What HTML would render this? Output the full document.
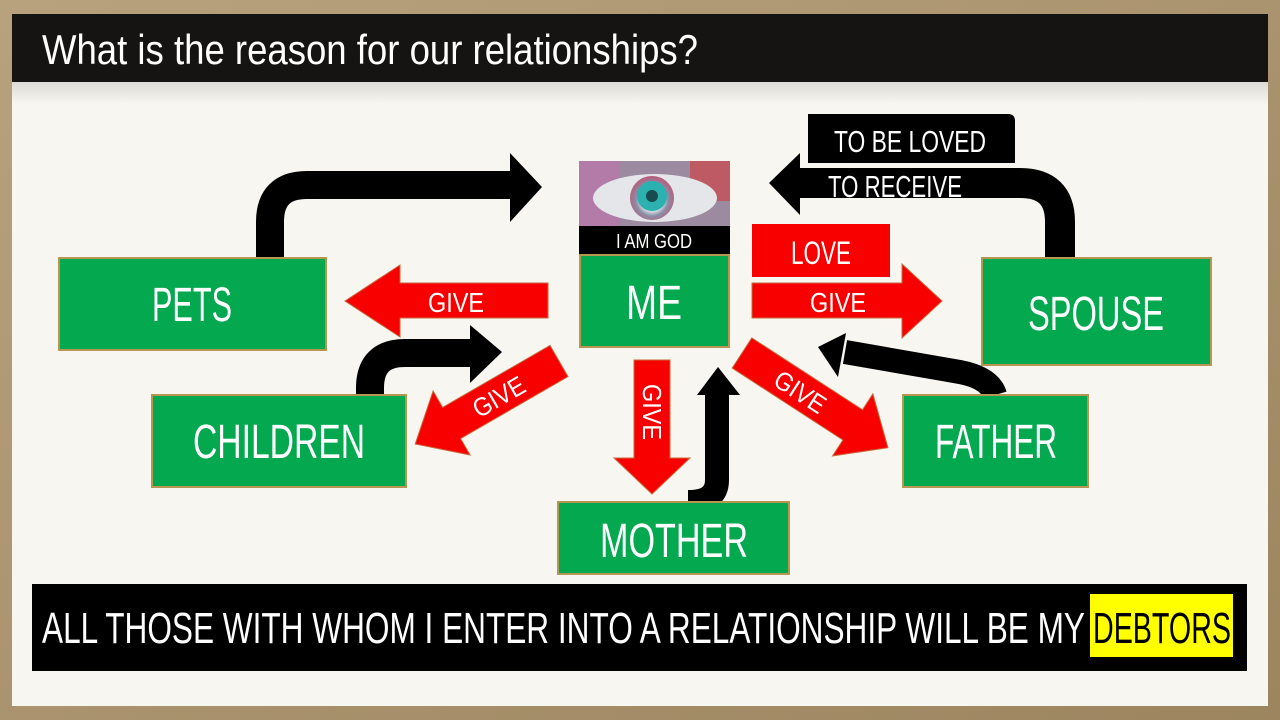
<!DOCTYPE html>
<html><head><meta charset="utf-8"><style>
html,body{margin:0;padding:0;width:1280px;height:720px;overflow:hidden;background:#a8916d}
svg{display:block}
text{font-family:"Liberation Sans",sans-serif}
</style></head><body>
<svg width="1280" height="720" viewBox="0 0 1280 720" xmlns="http://www.w3.org/2000/svg">
<defs>
<linearGradient id="fr" x1="0" y1="0" x2="1" y2="1"><stop offset="0" stop-color="#b8a27e"/><stop offset="1" stop-color="#9c855f"/></linearGradient>
<linearGradient id="sh" x1="0" y1="0" x2="0" y2="1"><stop offset="0" stop-color="#dcdad4"/><stop offset="1" stop-color="#f8f6f1"/></linearGradient>
<radialGradient id="eye" cx="0.5" cy="0.55" r="0.6"><stop offset="0" stop-color="#2aa6a8"/><stop offset="0.25" stop-color="#1a7f86"/><stop offset="0.4" stop-color="#dfe4ea"/><stop offset="0.6" stop-color="#8a8fa8"/><stop offset="1" stop-color="#c84a6a"/></radialGradient>
</defs>
<rect width="1280" height="720" fill="url(#fr)"/>
<rect x="12" y="14" width="1256" height="692" fill="#f8f6f1"/>
<rect x="12" y="82" width="1256" height="22" fill="url(#sh)"/>
<rect x="12" y="14" width="1256" height="68" fill="#151412"/>
<text x="42" y="64" font-size="42" fill="#fff" textLength="656" lengthAdjust="spacingAndGlyphs">What is the reason for our relationships?</text>

<!-- black arrows -->
<path d="M270,258 V222 Q270,185 307,185 H515" fill="none" stroke="#000" stroke-width="28"/>
<polygon points="510,153 542,187 510,222" fill="#000"/>
<path d="M1060,258 V222 Q1060,183 1020,183 H795" fill="none" stroke="#000" stroke-width="30"/>
<polygon points="800,153 769,183 800,215" fill="#000"/>
<path d="M808,114 H1008 Q1015,114 1015,121 V163 H808 Z" fill="#000"/>
<text x="834" y="152" font-size="31" fill="#fff" textLength="152" lengthAdjust="spacingAndGlyphs">TO BE LOVED</text>
<text x="828" y="197" font-size="31" fill="#fff" textLength="134" lengthAdjust="spacingAndGlyphs">TO RECEIVE</text>

<path d="M370,395 V388 Q370,353 405,353 H480" fill="none" stroke="#000" stroke-width="28"/>
<polygon points="470,325 502,352 470,383" fill="#000"/>
<path d="M688,502 Q717,502 717,480 V390" fill="none" stroke="#000" stroke-width="24"/>
<polygon points="697,395 718,367 740,395" fill="#000"/>
<path d="M995,395 Q990,378 960,372 L845,352" fill="none" stroke="#000" stroke-width="24"/>
<polygon points="818,347 846,333 838,377" fill="#000"/>

<!-- red arrows -->
<rect x="752" y="224" width="138" height="53" fill="#f80000"/>
<text x="821" y="264" font-size="32" fill="#fff" text-anchor="middle" textLength="60" lengthAdjust="spacingAndGlyphs">LOVE</text>
<polygon points="548,283 400,283 400,265 345,301 400,337 400,318 548,318" fill="#f80000" stroke="#c86a3a" stroke-width="1"/>
<text x="456" y="312" font-size="28" fill="#fff" text-anchor="middle" textLength="56" lengthAdjust="spacingAndGlyphs">GIVE</text>
<polygon points="752,283 902,283 902,264 942,301 902,338 902,318 752,318" fill="#f80000" stroke="#c86a3a" stroke-width="1"/>
<text x="838" y="312" font-size="28" fill="#fff" text-anchor="middle" textLength="56" lengthAdjust="spacingAndGlyphs">GIVE</text>
<polygon points="634,360 670,360 670,458 690,458 652,494 614,458 634,458" fill="#f80000" stroke="#c86a3a" stroke-width="1"/>
<text transform="translate(643,412) rotate(90)" font-size="26" fill="#fff" text-anchor="middle" textLength="56" lengthAdjust="spacingAndGlyphs">GIVE</text>
<g transform="translate(559,361) rotate(150)">
<polygon points="0,-18 124,-18 124,-37 166,0 124,37 124,18 0,18" fill="#f80000" stroke="#c86a3a" stroke-width="1"/>
<text transform="translate(70,-10) rotate(180)" font-size="26" fill="#fff" text-anchor="middle" textLength="56" lengthAdjust="spacingAndGlyphs">GIVE</text>
</g>
<g transform="translate(742,353) rotate(33)">
<polygon points="0,-18 132,-18 132,-37 174,0 132,37 132,18 0,18" fill="#f80000" stroke="#c86a3a" stroke-width="1"/>
<text x="70" y="10" font-size="26" fill="#fff" text-anchor="middle" textLength="56" lengthAdjust="spacingAndGlyphs">GIVE</text>
</g>

<!-- eye -->
<rect x="579" y="161" width="151" height="65" fill="#9c8aa0"/>
<rect x="579" y="161" width="40" height="65" fill="#c86bb0" opacity="0.5"/>
<rect x="690" y="161" width="40" height="40" fill="#d43a3a" opacity="0.6"/>
<ellipse cx="655" cy="198" rx="62" ry="24" fill="#e4e6ea"/>
<circle cx="652" cy="198" r="22" fill="url(#eye)"/>
<circle cx="652" cy="196" r="15" fill="#2bb2b0"/>
<circle cx="652" cy="196" r="6" fill="#184a50"/>
<rect x="579" y="226" width="151" height="28" fill="#000"/>
<text x="654" y="248" font-size="20" fill="#fff" text-anchor="middle" textLength="76" lengthAdjust="spacingAndGlyphs">I AM GOD</text>

<!-- boxes -->
<g fill="#03a84f" stroke="#b69650" stroke-width="2">
<rect x="59" y="258" width="267" height="92"/>
<rect x="580" y="255" width="149" height="92"/>
<rect x="982" y="258" width="229" height="107"/>
<rect x="152" y="395" width="254" height="92"/>
<rect x="903" y="395" width="185" height="92"/>
<rect x="558" y="502" width="231" height="72"/>
</g>
<g fill="#fff" font-size="48" text-anchor="middle">
<text x="192" y="321" textLength="80" lengthAdjust="spacingAndGlyphs">PETS</text>
<text x="654" y="319" textLength="56" lengthAdjust="spacingAndGlyphs">ME</text>
<text x="1096" y="330" textLength="136" lengthAdjust="spacingAndGlyphs">SPOUSE</text>
<text x="279" y="458" textLength="172" lengthAdjust="spacingAndGlyphs">CHILDREN</text>
<text x="996" y="458" textLength="122" lengthAdjust="spacingAndGlyphs">FATHER</text>
<text x="674" y="557" textLength="148" lengthAdjust="spacingAndGlyphs">MOTHER</text>
</g>

<!-- bottom bar -->
<rect x="32" y="584" width="1215" height="87" fill="#000"/>
<rect x="1090" y="594" width="143" height="63" fill="#ffff00"/>
<text x="42" y="643" font-size="44" fill="#fff" textLength="1043" lengthAdjust="spacingAndGlyphs">ALL THOSE WITH WHOM I ENTER INTO A RELATIONSHIP WILL BE MY</text>
<text x="1093" y="643" font-size="44" fill="#000" textLength="138" lengthAdjust="spacingAndGlyphs">DEBTORS</text>
</svg>
</body></html>
